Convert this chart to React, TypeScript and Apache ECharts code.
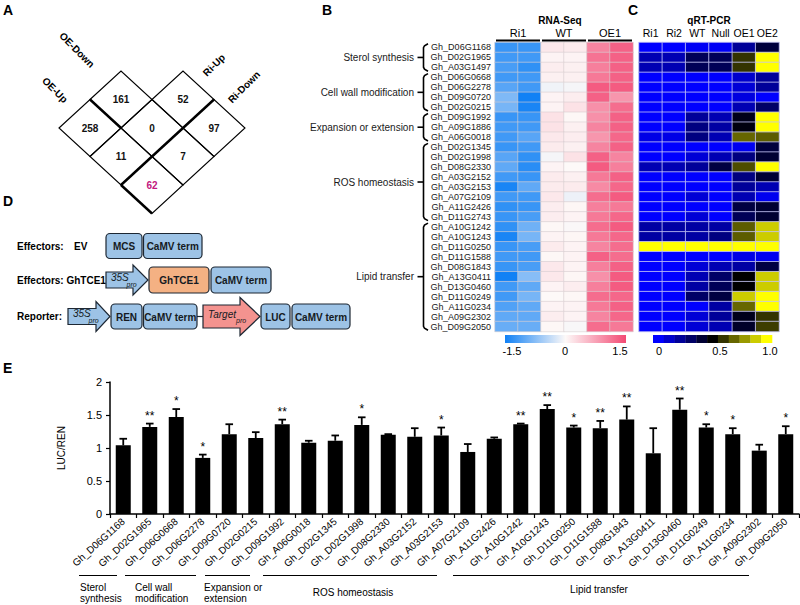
import React, { useEffect, useRef } from 'react';
import * as echarts from 'echarts';

const FONT = '"Liberation Sans", Arial, Helvetica, sans-serif';

// ---------------- Panel A (overlap diamond) ----------------
// [i: 0 none / 1 Ri-Up / 2 Ri-Down, j: 0 none / 1 OE-Down / 2 OE-Up, count]
const vennCells: number[][] = [
  [0, 1, 161], [1, 0, 52], [0, 2, 258], [1, 1, 0], [2, 0, 97], [1, 2, 11], [2, 1, 7], [2, 2, 62],
];
const vennBold: Record<string, string[]> = { '0,2': ['tr'], '2,0': ['tl'], '2,1': ['tl'], '2,2': ['tl', 'bl'] };
const vennHighlight = '2,2';

// ---------------- Panel B / C (heatmaps) ----------------
const hmGenes = [
  'Gh_D06G1168', 'Gh_D02G1965', 'Gh_A03G1497', 'Gh_D06G0668', 'Gh_D06G2278', 'Gh_D09G0720', 'Gh_D02G0215',
  'Gh_D09G1992', 'Gh_A09G1886', 'Gh_A06G0018', 'Gh_D02G1345', 'Gh_D02G1998', 'Gh_D08G2330', 'Gh_A03G2152',
  'Gh_A03G2153', 'Gh_A07G2109', 'Gh_A11G2426', 'Gh_D11G2743', 'Gh_A10G1242', 'Gh_A10G1243', 'Gh_D11G0250',
  'Gh_D11G1588', 'Gh_D08G1843', 'Gh_A13G0411', 'Gh_D13G0460', 'Gh_D11G0249', 'Gh_A11G0234', 'Gh_A09G2302',
  'Gh_D09G2050',
];
const hmGroups: [string, number, number][] = [
  ['Sterol synthesis', 0, 2], ['Cell wall modification', 3, 6], ['Expansion or extension', 7, 9],
  ['ROS homeostasis', 10, 17], ['Lipid transfer', 18, 28],
];
const rnaSeqSamples = ['Ri1', 'WT', 'OE1'];
const qpcrSamples = ['Ri1', 'Ri2', 'WT', 'Null', 'OE1', 'OE2'];
// z-scores, columns: Ri1 x2, WT x2, OE1 x2
const rnaSeq: number[][] = [
  [-1.25, -1.25, 0.15, 0.12, 1.0, 1.3],
  [-1.2, -1.2, 0.05, 0.05, 1.15, 1.3],
  [-1.15, -1.3, 0.1, 0.08, 1.05, 1.3],
  [-1.2, -1.2, 0.08, 0.08, 1.1, 1.3],
  [-1.05, -1.2, -0.08, -0.05, 1.35, 1.35],
  [-0.8, -1.5, 0.05, 0.1, 1.3, 0.85],
  [-0.85, -1.45, 0.05, 0.2, 0.9, 1.2],
  [-1.25, -1.25, 0.2, 0.02, 0.9, 1.3],
  [-1.2, -1.2, 0.2, 0.08, 1.0, 1.3],
  [-1.2, -1.05, 0.15, 0.1, 0.85, 1.25],
  [-1.25, -1.2, 0.12, 0.08, 1.0, 1.3],
  [-1.05, -1.3, -0.05, 0.2, 1.3, 1.0],
  [-1.0, -1.35, 0.05, 0.0, 1.35, 1.05],
  [-1.2, -1.25, 0.12, 0.08, 1.1, 1.3],
  [-1.45, -1.0, 0.12, 0.12, 0.95, 1.25],
  [-1.2, -1.2, 0.15, -0.1, 1.2, 1.35],
  [-1.3, -1.25, 0.1, 0.03, 1.05, 1.1],
  [-1.25, -1.15, 0.1, 0.05, 1.1, 1.25],
  [-1.3, -0.9, 0.02, -0.02, 1.2, 1.35],
  [-1.45, -0.85, 0.05, 0.03, 1.1, 1.25],
  [-1.25, -1.15, 0.12, 0.05, 1.0, 1.2],
  [-1.2, -1.2, 0.02, 0.05, 1.3, 1.2],
  [-1.25, -1.15, 0.15, 0.05, 1.05, 1.3],
  [-1.55, -0.75, 0.15, 0.03, 0.9, 1.35],
  [-1.2, -1.0, 0.05, 0.1, 1.05, 1.35],
  [-1.2, -0.85, 0.0, 0.02, 1.2, 1.25],
  [-1.1, -1.0, 0.05, 0.05, 1.1, 1.3],
  [-1.0, -1.0, 0.1, 0.05, 1.0, 1.25],
  [-0.95, -0.95, 0.02, -0.03, 1.2, 1.1],
];
// relative expression 0..1, columns: Ri1, Ri2, WT, Null, OE1, OE2
const qpcr: number[][] = [
  [0, 0, 0.02, 0.02, 0.2, 0.38],
  [0.15, 0.15, 0.33, 0.33, 0.6, 1.0],
  [0.15, 0.15, 0.33, 0.33, 0.6, 1.0],
  [0, 0, 0, 0, 0.1, 0.2],
  [0, 0, 0, 0, 0.08, 0.2],
  [0, 0, 0, 0, 0.06, 0],
  [0, 0, 0, 0, 0.15, 0.3],
  [0, 0, 0.2, 0.15, 0.45, 1.0],
  [0, 0, 0.25, 0.18, 0.47, 1.0],
  [0.05, 0.05, 0.25, 0.15, 0.7, 0.68],
  [0, 0, 0, 0, 0.03, 0.38],
  [0, 0, 0.08, 0.15, 0.25, 0.4],
  [0.15, 0.15, 0.2, 0.37, 0.65, 1.0],
  [0, 0, 0, 0, 0.25, 0.4],
  [0, 0, 0, 0, 0.2, 0.15],
  [0, 0, 0.08, 0, 0.15, 0.03],
  [0, 0, 0, 0, 0.37, 0.4],
  [0, 0, 0.08, 0, 0.33, 0.4],
  [0.18, 0.18, 0.18, 0.18, 0.68, 0.9],
  [0.18, 0.18, 0.18, 0.25, 0.68, 0.9],
  [1, 1, 1, 1, 1, 1],
  [0, 0, 0, 0, 0.05, 0.03],
  [0, 0, 0.08, 0.15, 0.18, 0.37],
  [0, 0, 0.15, 0.3, 0.5, 0.9],
  [0, 0, 0.18, 0.33, 0.5, 0.9],
  [0, 0, 0.3, 0.37, 0.9, 1.0],
  [0, 0, 0, 0.18, 0.7, 1.0],
  [0, 0, 0.08, 0.2, 0.45, 0.6],
  [0, 0, 0.08, 0.15, 0.42, 0.62],
];
const rnaColors = ['#1181f5', '#fdf9f8', '#f34a74'];
const qpcrColors = ['#0000ff', '#0000cc', '#000099', '#000066', '#000033', '#000000', '#333300', '#666600', '#999900', '#cccc00', '#ffff00'];

// ---------------- Panel E (dual-luciferase) ----------------
const eGenes = [
  'Gh_D06G1168', 'Gh_D02G1965', 'Gh_D06G0668', 'Gh_D06G2278', 'Gh_D09G0720', 'Gh_D02G0215', 'Gh_D09G1992',
  'Gh_A06G0018', 'Gh_D02G1345', 'Gh_D02G1998', 'Gh_D08G2330', 'Gh_A03G2152', 'Gh_A03G2153', 'Gh_A07G2109',
  'Gh_A11G2426', 'Gh_A10G1242', 'Gh_A10G1243', 'Gh_D11G0250', 'Gh_D11G1588', 'Gh_D08G1843', 'Gh_A13G0411',
  'Gh_D13G0460', 'Gh_D11G0249', 'Gh_A11G0234', 'Gh_A09G2302', 'Gh_D09G2050',
];
const eMeans = [1.04, 1.32, 1.47, 0.85, 1.21, 1.15, 1.36, 1.08, 1.11, 1.35, 1.2, 1.17, 1.19, 0.94, 1.14, 1.36, 1.59, 1.31, 1.3, 1.43, 0.92, 1.58, 1.31, 1.21, 0.96, 1.21];
const eErrs = [0.1, 0.05, 0.12, 0.05, 0.15, 0.09, 0.07, 0.03, 0.08, 0.115, 0.01, 0.13, 0.12, 0.12, 0.02, 0.01, 0.06, 0.03, 0.11, 0.2, 0.38, 0.17, 0.05, 0.09, 0.09, 0.12];
const eSig = ['', '**', '*', '*', '', '', '**', '', '', '*', '', '', '*', '', '', '**', '**', '*', '**', '**', '', '**', '*', '*', '', '*'];
const eTicks = [0, 0.5, 1, 1.5, 2];

// ---------------- layout constants ----------------
const HM_TOP = 42.5;
const HM_H = 289;
const ROW_H = HM_H / hmGenes.length;
const B_LEFT = 495, B_W = 138;
const C_LEFT = 639, C_W = 140;

const T = (text: string, x: number, y: number, o: any = {}) => ({
  type: 'text', x, y, rotation: o.rotation || 0, silent: true, z: 10,
  style: {
    text, fill: o.color || '#000', fontSize: o.size || 10, fontWeight: o.bold ? 'bold' : 'normal',
    fontStyle: o.italic ? 'italic' : 'normal', fontFamily: FONT,
    textAlign: o.align || 'center', textVerticalAlign: o.va || 'middle', lineHeight: o.lh || undefined,
  },
});
const L = (x1: number, y1: number, x2: number, y2: number, w = 1) => ({
  type: 'line', silent: true, z: 10, shape: { x1, y1, x2, y2 }, style: { stroke: '#000', lineWidth: w },
});
const STROKE = '#1d2733';
const box = (x1: number, x2: number, y1: number, y2: number, fill: string, label: string) => [
  { type: 'rect', silent: true, shape: { x: x1, y: y1, width: x2 - x1, height: y2 - y1, r: 4 }, style: { fill, stroke: STROKE, lineWidth: 1.2 } },
  T(label, (x1 + x2) / 2, (y1 + y2) / 2 + 0.5, { bold: true, size: 10, color: '#151a22' }),
];
const arrow = (xb: number, xh: number, xt: number, cy: number, bh: number, hh: number, fill: string) => ({
  type: 'polygon', silent: true,
  shape: { points: [[xb, cy - bh], [xh, cy - bh], [xh, cy - hh], [xt, cy], [xh, cy + hh], [xh, cy + bh], [xb, cy + bh]] },
  style: { fill, stroke: STROKE, lineWidth: 1.2 },
});

function buildOption() {
  const graphics: any[] = [];
  // panel letters
  graphics.push(T('A', 3, 3, { bold: true, size: 14, align: 'left', va: 'top' }));
  graphics.push(T('B', 322, 3, { bold: true, size: 14, align: 'left', va: 'top' }));
  graphics.push(T('C', 628, 3, { bold: true, size: 14, align: 'left', va: 'top' }));
  graphics.push(T('D', 3, 194, { bold: true, size: 14, align: 'left', va: 'top' }));
  graphics.push(T('E', 3, 361, { bold: true, size: 14, align: 'left', va: 'top' }));

  // Panel A labels
  graphics.push(T('OE-Down', 77, 50, { bold: true, rotation: -Math.PI / 4 }));
  graphics.push(T('OE-Up', 55, 90, { bold: true, rotation: -Math.PI / 4 }));
  graphics.push(T('Ri-Up', 214, 65, { bold: true, rotation: Math.PI / 4 }));
  graphics.push(T('Ri-Down', 244, 87, { bold: true, rotation: Math.PI / 4 }));

  // Panel B headers
  graphics.push(T('RNA-Seq', 560, 20.5, { bold: true, size: 10 }));
  rnaSeqSamples.forEach((s, k) => {
    const x0 = B_LEFT + (k * B_W) / 3;
    const x1 = B_LEFT + ((k + 1) * B_W) / 3;
    graphics.push(T(s, (x0 + x1) / 2, 33, { size: 11 }));
    graphics.push(L(x0 + 1, 40.5, x1 - 1, 40.5, 2));
  });
  // Panel C headers
  graphics.push(T('qRT-PCR', C_LEFT + C_W / 2, 20.5, { bold: true, size: 10 }));
  qpcrSamples.forEach((s, k) => {
    graphics.push(T(s, C_LEFT + ((k + 0.5) * C_W) / 6, 33, { size: 10.5 }));
  });
  // brackets + group labels (B)
  hmGroups.forEach(([name, s, e]) => {
    const yt = HM_TOP + s * ROW_H + 1.2;
    const yb = HM_TOP + (e + 1) * ROW_H - 1.2;
    const ym = (yt + yb) / 2;
    graphics.push({
      type: 'polyline', silent: true,
      shape: { points: [[428, yt], [424.5, yt + 2], [423.5, yt + 4], [423.5, yb - 4], [424.5, yb - 2], [428, yb]] },
      style: { stroke: '#000', lineWidth: 1.6, fill: null },
    });
    graphics.push(L(417.5, ym, 423.5, ym, 1.6));
    graphics.push(T(name, 414, ym, { size: 10, align: 'right', color: '#1a1a1a' }));
  });
  // color bars
  graphics.push({
    type: 'rect', silent: true, shape: { x: 505, y: 335, width: 121, height: 8 },
    style: {
      fill: new echarts.graphic.LinearGradient(0, 0, 1, 0, [
        { offset: 0, color: rnaColors[0] }, { offset: 0.5, color: rnaColors[1] }, { offset: 1, color: rnaColors[2] },
      ]),
    },
  });
  graphics.push(T('-1.5', 512, 351, { size: 11 }));
  graphics.push(T('0', 565, 351, { size: 11 }));
  graphics.push(T('1.5', 620, 351, { size: 11 }));
  const cbw = 119 / qpcrColors.length;
  qpcrColors.forEach((c, k) => {
    graphics.push({ type: 'rect', silent: true, shape: { x: 653 + k * cbw, y: 335, width: cbw + 0.3, height: 8 }, style: { fill: c } });
  });
  graphics.push(T('0', 659, 351, { size: 11 }));
  graphics.push(T('0.5', 720, 351, { size: 11 }));
  graphics.push(T('1.0', 770, 351, { size: 11 }));

  // Panel D
  graphics.push(T('Effectors:', 17, 246, { bold: true, align: 'left' }));
  graphics.push(T('EV', 74, 246, { bold: true, align: 'left' }));
  graphics.push(...box(106, 142, 233.5, 258.5, '#9dc3e6', 'MCS'));
  graphics.push(...box(143.5, 202, 233.5, 258.5, '#9dc3e6', 'CaMV term'));

  graphics.push(T('Effectors: GhTCE1', 17, 280, { bold: true, align: 'left' }));
  graphics.push(arrow(106, 133, 148, 280, 8, 15, '#9dc3e6'));
  graphics.push(T('35S', 111, 277, { italic: true, size: 10, align: 'left', color: '#151a22' }));
  graphics.push(T('pro', 126.5, 284, { italic: true, size: 7, align: 'left', color: '#151a22' }));
  graphics.push(...box(149, 209, 267, 293, '#f4b183', 'GhTCE1'));
  graphics.push(...box(211, 271, 267, 293, '#9dc3e6', 'CaMV term'));

  graphics.push(T('Reporter:', 17, 316.5, { bold: true, align: 'left' }));
  graphics.push(arrow(68, 96, 110, 316.5, 8, 15, '#9dc3e6'));
  graphics.push(T('35S', 73, 313.5, { italic: true, size: 10, align: 'left', color: '#151a22' }));
  graphics.push(T('pro', 88.5, 320.5, { italic: true, size: 7, align: 'left', color: '#151a22' }));
  graphics.push(...box(111, 142, 304, 329, '#9dc3e6', 'REN'));
  graphics.push(...box(143.5, 197, 304, 329, '#9dc3e6', 'CaMV term'));
  graphics.push({ type: 'line', silent: true, shape: { x1: 197, y1: 316.5, x2: 203, y2: 316.5 }, style: { stroke: STROKE, lineWidth: 1.2 } });
  graphics.push(arrow(203, 240, 260, 316.5, 11.5, 19, '#f4938f'));
  graphics.push(T('Target', 208, 314, { italic: true, size: 10, align: 'left', color: '#151a22' }));
  graphics.push(T('pro', 236, 320.5, { italic: true, size: 7, align: 'left', color: '#151a22' }));
  graphics.push(...box(261, 290, 304, 329, '#9dc3e6', 'LUC'));
  graphics.push(...box(292, 350, 304, 329, '#9dc3e6', 'CaMV term'));

  // Panel E group lines + labels
  const eGroupLines: [number, number][] = [[79, 117], [125, 196], [205, 250], [263, 437], [453, 749]];
  eGroupLines.forEach(([a, b]) => graphics.push(L(a, 575.5, b, 575.5, 1.2)));
  graphics.push(T('Sterol\nsynthesis', 80, 593, { align: 'left', lh: 11.5 }));
  graphics.push(T('Cell wall\nmodification', 135, 593, { align: 'left', lh: 11.5 }));
  graphics.push(T('Expansion or\nextension', 204, 593, { align: 'left', lh: 11.5 }));
  graphics.push(T('ROS homeostasis', 353, 592));
  graphics.push(T('Lipid transfer', 599, 589));

  // ---------- series ----------
  const vennData = vennCells.map(([i, j, n]) => [i - j, i + j, n, i, j]);
  const vennRender = (params: any, api: any) => {
    const u = api.value(0), v = api.value(1), n = api.value(2), i = api.value(3), j = api.value(4);
    const pL = api.coord([u - 1, v]), pR = api.coord([u + 1, v]);
    const pT = api.coord([u, v - 1]), pB = api.coord([u, v + 1]);
    const pC = api.coord([u, v]);
    const key = `${i},${j}`;
    const edges: Record<string, number[][]> = { tl: [pL, pT], tr: [pT, pR], br: [pR, pB], bl: [pB, pL] };
    const children: any[] = [
      { type: 'polygon', shape: { points: [pL, pT, pR, pB] }, style: { fill: null, stroke: '#000', lineWidth: 1.1 } },
    ];
    (vennBold[key] || []).forEach((e) => {
      const [a, b] = edges[e];
      children.push({ type: 'line', shape: { x1: a[0], y1: a[1], x2: b[0], y2: b[1] }, style: { stroke: '#000', lineWidth: 2.4 }, z2: 5 });
    });
    children.push({
      type: 'text', x: pC[0], y: pC[1],
      style: {
        text: String(n), fill: key === vennHighlight ? '#c2187f' : '#111', fontSize: 10, fontWeight: 'bold',
        fontFamily: FONT, textAlign: 'center', textVerticalAlign: 'middle',
      },
    });
    return { type: 'group', children };
  };

  const bData: number[][] = [];
  rnaSeq.forEach((row, r) => row.forEach((val, c) => bData.push([c, r, val])));
  const cData: number[][] = [];
  qpcr.forEach((row, r) => row.forEach((val, c) => cData.push([c, r, val])));

  const errRender = (params: any, api: any) => {
    const idx = api.value(0), m = api.value(1), e = api.value(2);
    const p0 = api.coord([idx, m]);
    const p1 = api.coord([idx, m + e]);
    const sig = eSig[params.dataIndex];
    const children: any[] = [
      { type: 'line', shape: { x1: p0[0], y1: p0[1], x2: p0[0], y2: p1[1] }, style: { stroke: '#000', lineWidth: 1.8 } },
      { type: 'line', shape: { x1: p0[0] - 3.8, y1: p1[1], x2: p0[0] + 3.8, y2: p1[1] }, style: { stroke: '#000', lineWidth: 1.8 } },
    ];
    if (sig) {
      children.push({
        type: 'text', x: p0[0], y: p1[1] - 8,
        style: { text: sig, fill: '#000', fontSize: 12, fontFamily: FONT, textAlign: 'center', textVerticalAlign: 'middle' },
      });
    }
    return { type: 'group', children };
  };

  const hiddenCat = (gridIndex: number, data: any[]) => ({
    type: 'category', gridIndex, data, show: false,
  });

  return {
    animation: false,
    backgroundColor: '#ffffff',
    textStyle: { fontFamily: FONT },
    grid: [
      { left: B_LEFT, top: HM_TOP, width: B_W, height: HM_H, containLabel: false, outerBoundsMode: 'none' },
      { left: C_LEFT, top: HM_TOP, width: C_W, height: HM_H, containLabel: false, outerBoundsMode: 'none' },
      { left: 110, top: 382, width: 689, height: 132, containLabel: false, outerBoundsMode: 'none' },
      { left: 28, top: 42.5, width: 248, height: 199.5, containLabel: false, outerBoundsMode: 'none' },
    ],
    xAxis: [
      hiddenCat(0, [0, 1, 2, 3, 4, 5]),
      hiddenCat(1, qpcrSamples),
      {
        type: 'category', gridIndex: 2, data: eGenes,
        axisLine: { show: true, lineStyle: { color: '#000', width: 1.5 } },
        axisTick: { show: true, length: 4, lineStyle: { color: '#000', width: 1.2 } },
        axisLabel: { show: true, interval: 0, rotate: 42, fontSize: 10, color: '#000', margin: 6, fontFamily: FONT },
        splitLine: { show: false },
      },
      { type: 'value', gridIndex: 3, min: -4, max: 4, show: false },
    ],
    yAxis: [
      {
        type: 'category', gridIndex: 0, data: hmGenes, inverse: true,
        axisLine: { show: false }, axisTick: { show: false },
        axisLabel: { show: true, interval: 0, fontSize: 9, color: '#1a1a1a', margin: 4, fontFamily: FONT },
      },
      { type: 'category', gridIndex: 1, data: hmGenes, inverse: true, show: false },
      {
        type: 'value', gridIndex: 2, min: 0, max: 2, interval: 0.5,
        name: 'LUC/REN', nameLocation: 'middle', nameGap: 44, nameRotate: 90,
        nameTextStyle: { fontSize: 10, color: '#000', fontFamily: FONT },
        axisLine: { show: true, lineStyle: { color: '#000', width: 1.5 } },
        axisTick: { show: true, length: 4, lineStyle: { color: '#000', width: 1.2 } },
        axisLabel: { show: true, fontSize: 11, color: '#000', margin: 8, fontFamily: FONT, customValues: eTicks },
        splitLine: { show: false },
      },
      { type: 'value', gridIndex: 3, min: -1, max: 6, inverse: true, show: false },
    ],
    visualMap: [
      { type: 'continuous', show: false, seriesIndex: 0, dimension: 2, min: -1.5, max: 1.5, inRange: { color: rnaColors } },
      { type: 'continuous', show: false, seriesIndex: 1, dimension: 2, min: 0, max: 1, inRange: { color: qpcrColors } },
    ],
    series: [
      {
        type: 'heatmap', xAxisIndex: 0, yAxisIndex: 0, data: bData, silent: true,
        itemStyle: { borderColor: '#d8cfd2', borderWidth: 0.6 }, emphasis: { disabled: true },
      },
      {
        type: 'heatmap', xAxisIndex: 1, yAxisIndex: 1, data: cData, silent: true,
        itemStyle: { borderColor: '#c4c4f4', borderWidth: 0.8 }, emphasis: { disabled: true },
      },
      {
        type: 'bar', xAxisIndex: 2, yAxisIndex: 2, data: eMeans, barWidth: 15, silent: true,
        itemStyle: { color: '#000' },
      },
      {
        type: 'custom', xAxisIndex: 2, yAxisIndex: 2, silent: true, clip: false,
        data: eMeans.map((m, k) => [k, m, eErrs[k]]), encode: { x: 0, y: 1 },
        renderItem: errRender, z: 5,
      },
      {
        type: 'custom', xAxisIndex: 3, yAxisIndex: 3, silent: true, clip: false,
        data: vennData, encode: { x: 0, y: 1 }, renderItem: vennRender,
      },
    ],
    graphic: { elements: graphics },
  };
}

export default function App() {
  const ref = useRef<HTMLDivElement>(null);
  useEffect(() => {
    document.body.style.margin = '0';
    const chart = echarts.init(ref.current as HTMLDivElement, null, { renderer: 'svg' });
    chart.setOption(buildOption() as any);
    return () => chart.dispose();
  }, []);
  return <div ref={ref} style={{ width: 800, height: 605, background: '#fff' }} />;
}
